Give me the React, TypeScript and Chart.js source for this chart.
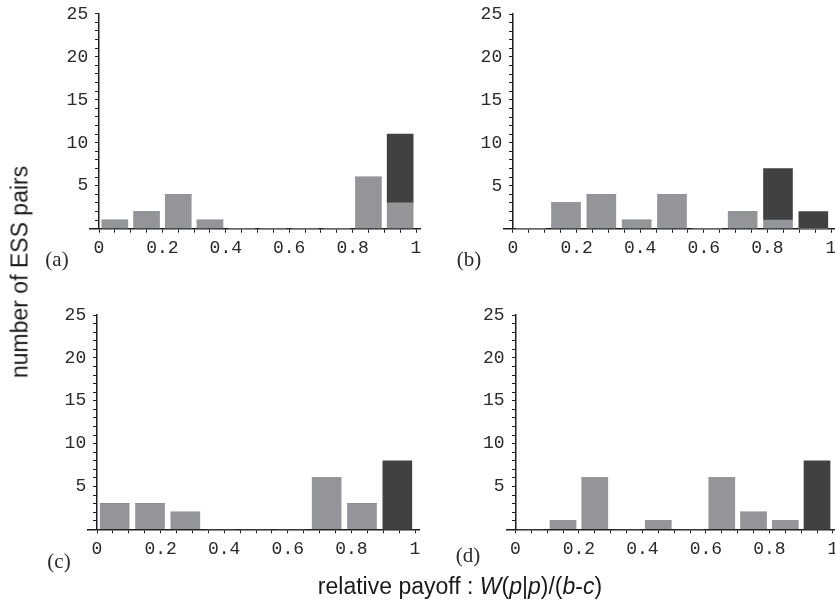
import React, { useEffect, useRef } from "react";
import { Chart, registerables } from "chart.js";

Chart.register(...registerables);

// ---- data ----
const BINS_10 = [0.05, 0.15, 0.25, 0.35, 0.45, 0.55, 0.65, 0.75, 0.85, 0.95];
const BINS_9 = [0.0556, 0.1667, 0.2778, 0.3889, 0.5, 0.6111, 0.7222, 0.8333, 0.9444];

const A_LIGHT = [1, 2, 4, 1, 0, 0, 0, 0, 6, 3];
const A_DARK = [0, 0, 0, 0, 0, 0, 0, 0, 0, 8];
const B_LIGHT = [0, 3, 4, 1, 4, 0, 2, 1, 0];
const B_DARK = [0, 0, 0, 0, 0, 0, 0, 6, 2];
const C_LIGHT = [3, 3, 2, 0, 0, 0, 6, 3, 0];
const C_DARK = [0, 0, 0, 0, 0, 0, 0, 0, 8];
const D_LIGHT = [0, 1, 6, 0, 1, 0, 6, 2, 1, 0];
const D_DARK = [0, 0, 0, 0, 0, 0, 0, 0, 0, 8];

const X_TICK_LABELS = [0, 0.2, 0.4, 0.6, 0.8, 1];
const X_TICKS = [0, 0.05, 0.1, 0.15, 0.2, 0.25, 0.3, 0.35, 0.4, 0.45, 0.5, 0.55, 0.6, 0.65, 0.7, 0.75, 0.8, 0.85, 0.9, 0.95, 1];
const Y_TICK_LABELS = [5, 10, 15, 20, 25];
const Y_TICKS = [0, 1, 2, 3, 4, 5, 6, 7, 8, 9, 10, 11, 12, 13, 14, 15, 16, 17, 18, 19, 20, 21, 22, 23, 24, 25];
const Y_MAX = 25;

const Y_TITLE = "number of ESS pairs";

// ---- styles ----
const LIGHT = "#949598";
const DARK = "#414141";
const AXIS = "#1e1e1e";
const TEXT = "#2a2a2a";
const MONO = "'Liberation Mono', 'Courier New', monospace";
const SANS = "'Liberation Sans', Arial, Helvetica, sans-serif";
const SERIF = "'Liberation Serif', 'Times New Roman', serif";

type Frame = {
  cLeft: number; cTop: number; cWidth: number; cHeight: number;
  xZero: number; ppu: number; xMin: number; xMax: number;
  yTop: number; yBottom: number;
};

const X_AXIS_H = 40;

function Panel({ bins, light, dark, f }: { bins: number[]; light: number[]; dark: number[]; f: Frame }) {
  const ref = useRef<HTMLCanvasElement | null>(null);
  useEffect(() => {
    const canvas = ref.current;
    if (!canvas) return;
    const chartLeft = f.xZero + f.xMin * f.ppu;
    const chartRight = f.xZero + f.xMax * f.ppu;
    const padding = {
      left: chartLeft - f.cLeft,
      right: f.cLeft + f.cWidth - chartRight,
      top: f.yTop - f.cTop,
      bottom: f.cTop + f.cHeight - X_AXIS_H - f.yBottom,
    };
    const barOpts = {
      barThickness: "flex" as const,
      categoryPercentage: 1,
      barPercentage: 0.82,
      borderWidth: 0,
    };
    const chart = new Chart(canvas, {
      type: "bar",
      data: {
        datasets: [
          { label: "light", data: bins.map((x, i) => ({ x, y: light[i] })), backgroundColor: LIGHT, ...barOpts },
          { label: "dark", data: bins.map((x, i) => ({ x, y: dark[i] })), backgroundColor: DARK, ...barOpts },
        ],
      },
      options: {
        animation: false,
        responsive: false,
        maintainAspectRatio: false,
        layout: { padding },
        plugins: { legend: { display: false }, tooltip: { enabled: false } },
        scales: {
          x: {
            type: "linear",
            stacked: true,
            offset: false,
            min: f.xMin,
            max: f.xMax,
            position: "bottom",
            afterBuildTicks: (s: any) => {
              s.ticks = X_TICKS.map((v) => ({ value: v }));
            },
            afterFit: (s: any) => {
              s.height = X_AXIS_H;
            },
            grid: { offset: false, drawOnChartArea: false, drawTicks: true, tickLength: 4, tickColor: AXIS, tickWidth: 1 },
            border: { display: true, color: AXIS, width: 1.5 },
            ticks: {
              autoSkip: false,
              maxRotation: 0,
              minRotation: 0,
              padding: 5,
              color: TEXT,
              font: { family: MONO, size: 18 },
              callback: (v: any) => {
                const l = X_TICK_LABELS.find((t) => Math.abs(t - Number(v)) < 1e-6);
                return l === undefined ? "" : String(l);
              },
            },
          },
          y: {
            type: "linear",
            stacked: true,
            min: 0,
            max: Y_MAX,
            position: { x: 0 } as any,
            afterBuildTicks: (s: any) => {
              s.ticks = Y_TICKS.map((v) => ({ value: v }));
            },
            grid: { offset: false, drawOnChartArea: false, drawTicks: true, tickLength: 3, tickColor: AXIS, tickWidth: 1 },
            border: { display: true, color: AXIS, width: 1.5 },
            ticks: {
              autoSkip: false,
              padding: 0,
              color: TEXT,
              font: { family: MONO, size: 18 },
              callback: (v: any) => (Y_TICK_LABELS.includes(Number(v)) ? `${v} ` : ""),
            },
          },
        },
      },
    } as any);
    return () => chart.destroy();
  }, []);
  return (
    <canvas
      ref={ref}
      width={f.cWidth}
      height={f.cHeight}
      style={{ position: "absolute", left: f.cLeft, top: f.cTop, width: f.cWidth, height: f.cHeight }}
    />
  );
}

const FRAME_A: Frame = { cLeft: 0, cTop: 0, cWidth: 430, cHeight: 290, xZero: 99, ppu: 317, xMin: -0.028, xMax: 1.015, yTop: 13.8, yBottom: 228.7 };
const FRAME_B: Frame = { cLeft: 430, cTop: 0, cWidth: 420, cHeight: 290, xZero: 513, ppu: 318, xMin: -0.03, xMax: 1.013, yTop: 14, yBottom: 228.7 };
const FRAME_C: Frame = { cLeft: 0, cTop: 290, cWidth: 430, cHeight: 314, xZero: 97, ppu: 318, xMin: -0.028, xMax: 1.014, yTop: 315, yBottom: 529.3 };
const FRAME_D: Frame = { cLeft: 430, cTop: 290, cWidth: 420, cHeight: 314, xZero: 515.4, ppu: 317.5, xMin: -0.028, xMax: 1.013, yTop: 315, yBottom: 529.3 };

function Label({ text, x, y }: { text: string; x: number; y: number }) {
  return (
    <div
      style={{
        position: "absolute",
        left: x,
        top: y,
        transform: "translate(-50%, -50%)",
        fontFamily: SERIF,
        fontSize: 21,
        color: TEXT,
        whiteSpace: "nowrap",
        lineHeight: 1,
      }}
    >
      {text}
    </div>
  );
}

export default function App() {
  return (
    <div
      style={{
        position: "fixed",
        left: 0,
        top: 0,
        width: 835,
        height: 604,
        overflow: "hidden",
        background: "#ffffff",
      }}
    >
      <Panel bins={BINS_10} light={A_LIGHT} dark={A_DARK} f={FRAME_A} />
      <Panel bins={BINS_9} light={B_LIGHT} dark={B_DARK} f={FRAME_B} />
      <Panel bins={BINS_9} light={C_LIGHT} dark={C_DARK} f={FRAME_C} />
      <Panel bins={BINS_10} light={D_LIGHT} dark={D_DARK} f={FRAME_D} />

      <Label text="(a)" x={57} y={259} />
      <Label text="(b)" x={469} y={259} />
      <Label text="(c)" x={59} y={561} />
      <Label text="(d)" x={468} y={555} />

      <div
        style={{
          position: "absolute",
          left: 20,
          top: 272,
          transform: "translate(-50%, -50%) rotate(-90deg)",
          fontFamily: SANS,
          fontSize: 23,
          color: "#1a1a1a",
          whiteSpace: "nowrap",
          lineHeight: 1,
        }}
      >
        {Y_TITLE}
      </div>

      <div
        style={{
          position: "absolute",
          left: 460,
          top: 586,
          transform: "translate(-50%, -50%)",
          fontFamily: SANS,
          fontSize: 23,
          color: "#1a1a1a",
          whiteSpace: "nowrap",
          lineHeight: 1,
        }}
      >
        relative payoff : <i>W</i>(<i>p</i>|<i>p</i>)/(<i>b</i>-<i>c</i>)
      </div>
    </div>
  );
}
